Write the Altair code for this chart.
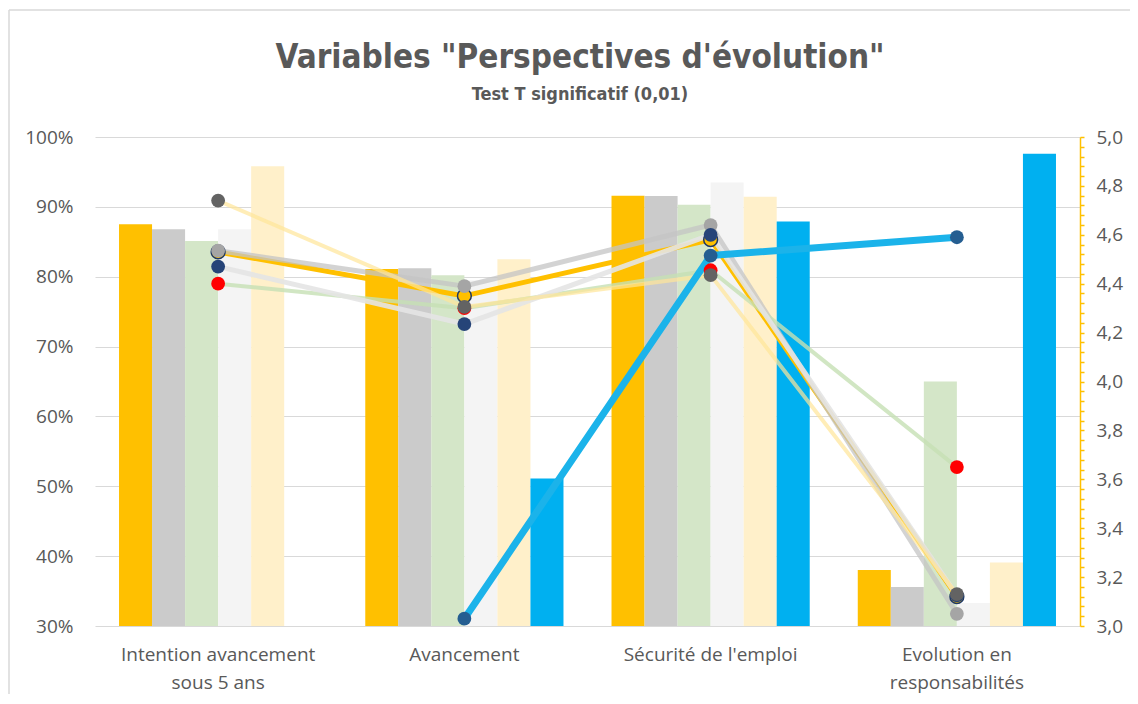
import altair as alt
import pandas as pd

categories = ["Intention avancement sous 5 ans", "Avancement", "Sécurité de l'emploi", "Evolution en responsabilités"]
series = ["S1", "S2", "S3", "S4", "S5", "S6"]

title_text = 'Variables "Perspectives d\'évolution"'
subtitle_text = "Test T significatif (0,01)"

# Bar values (left axis, share)
bar_s1 = [0.875, 0.811, 0.916, 0.380]
bar_s2 = [0.868, 0.812, 0.9155, 0.356]
bar_s3 = [0.851, 0.802, 0.903, 0.650]
bar_s4 = [0.868, 0.795, 0.935, 0.333]
bar_s5 = [0.958, 0.825, 0.9145, 0.391]
bar_s6 = [None, 0.511, 0.879, 0.976]

# Line values (right axis, mean score)
line_s1 = [4.53, 4.35, 4.58, 3.12]
line_s2 = [4.535, 4.39, 4.64, 3.05]
line_s3 = [4.40, 4.30, 4.455, 3.65]
line_s4 = [4.47, 4.235, 4.60, 3.125]
line_s5 = [4.74, 4.305, 4.435, 3.13]
line_s6 = [None, 3.03, 4.515, 4.59]

left_ticks = [0.3, 0.4, 0.5, 0.6, 0.7, 0.8, 0.9, 1.0]
right_ticks = [round(3.0 + 0.04 * i, 2) for i in range(51)]

bar_colors = ["#FFC000", "#CBCBCB", "#D4E6C8", "#F4F4F4", "#FFF0CA", "#00B0F0"]
line_colors = ["#FFC000", "#C4C4C4", "#C5E0B4", "#E4E4E4", "#FFE699", "#1BB3EA"]
line_opac = [1.0, 0.75, 0.8, 0.9, 0.7, 1.0]
line_widths = [5, 5, 4, 5, 4, 7]
marker_colors = ["#FFC000", "#A5A5A5", "#FF0000", "#264478", "#636363", "#255E91"]
marker_strokes = ["#1F3864", "#A5A5A5", "#FF0000", "#264478", "#636363", "#255E91"]
marker_stroke_w = [1.5, 0, 0, 0, 0, 0]

bars_all = [bar_s1, bar_s2, bar_s3, bar_s4, bar_s5, bar_s6]
lines_all = [line_s1, line_s2, line_s3, line_s4, line_s5, line_s6]

bar_rows = []
for s, vals in zip(series, bars_all):
    for c, v in zip(categories, vals):
        bar_rows.append({"cat": c, "serie": s, "pct": v})
bar_df = pd.DataFrame(bar_rows)

font = "Open Sans"
title_font = "'Liberation Sans Narrow', 'DejaVu Sans Condensed', 'Open Sans'"
gray_txt = "#595959"

label_expr = ("datum.label == 'Intention avancement sous 5 ans' ? ['Intention avancement', 'sous 5 ans'] : "
              "datum.label == 'Evolution en responsabilités' ? ['Evolution en', 'responsabilités'] : datum.label")

x_enc = alt.X("cat:N", sort=categories,
              scale=alt.Scale(paddingInner=0, paddingOuter=0),
              axis=alt.Axis(title=None, labelAngle=0, labelExpr=label_expr, labelFont=font,
                            labelFontSize=19, labelColor=gray_txt, labelLineHeight=28,
                            labelPadding=19, domain=False, ticks=False, labelLimit=400))

bars = alt.Chart(bar_df).mark_bar().encode(
    x=x_enc,
    xOffset=alt.XOffset("serie:N", sort=series,
                        scale=alt.Scale(domain=series, paddingInner=0, paddingOuter=0.727)),
    y=alt.Y("pct:Q", scale=alt.Scale(domain=[0.3, 1.0], zero=False, nice=False),
            axis=alt.Axis(title=None, orient="left", values=left_ticks, format=".0%",
                          grid=True, gridColor="#D9D9D9", gridWidth=1.2, domain=False, ticks=False,
                          labelFont=font, labelFontSize=19, labelColor=gray_txt, labelPadding=22)),
    y2=alt.datum(0.3),
    color=alt.Color("serie:N", scale=alt.Scale(domain=series, range=bar_colors), legend=None),
)

right_label_expr = ("abs(datum.value*5 - round(datum.value*5)) < 0.001 ? "
                    "replace(format(datum.value, '.1f'), '.', ',') : ''")

right_axis = alt.Axis(title=None, orient="right", values=right_ticks, labelExpr=right_label_expr,
                      labelOverlap=False, grid=False, domainColor="#FFC000", domainWidth=1.5,
                      tickColor="#FFC000", tickSize=4, tickWidth=1.5,
                      labelFont=font, labelFontSize=19, labelColor=gray_txt, labelPadding=12)

line_layers = []
point_layers = []
for i, (s, vals) in enumerate(zip(series, lines_all)):
    df = pd.DataFrame({"cat": categories, "score": vals}).dropna()
    base = alt.Chart(df).encode(
        x=alt.X("cat:N", sort=categories),
        y=alt.Y("score:Q", scale=alt.Scale(domain=[3.0, 5.0], zero=False, nice=False), axis=right_axis),
    )
    line_layers.append(base.mark_line(color=line_colors[i], strokeWidth=line_widths[i],
                                      opacity=line_opac[i], strokeCap="round", strokeJoin="round"))
    point_layers.append(base.mark_point(filled=True, size=190, color=marker_colors[i], opacity=1,
                                        stroke=marker_strokes[i], strokeWidth=marker_stroke_w[i]))

lines = alt.layer(*line_layers, *point_layers)

one = pd.DataFrame({"k": [0]})
# chart border (decorative)
border_top = alt.Chart(one).mark_rule(color="#D9D9D9", strokeWidth=1.5).encode(
    x=alt.value(-86), x2=alt.value(1040), y=alt.value(-127))
border_left = alt.Chart(one).mark_rule(color="#D9D9D9", strokeWidth=1.5).encode(
    x=alt.value(-86), y=alt.value(-127), y2=alt.value(560))

title_mark = alt.Chart(pd.DataFrame({"t": [title_text]})).mark_text(
    font=title_font, fontSize=33, fontWeight="bold", color=gray_txt, align="center", baseline="alphabetic"
).encode(text="t:N", x=alt.value(485), y=alt.value(-69))
subtitle_mark = alt.Chart(pd.DataFrame({"t": [subtitle_text]})).mark_text(
    font=title_font, fontSize=18, fontWeight="bold", color=gray_txt, align="center", baseline="alphabetic"
).encode(text="t:N", x=alt.value(485), y=alt.value(-37))

chart = alt.layer(border_top, border_left, title_mark, subtitle_mark, bars, lines).resolve_scale(
    y="independent"
).properties(
    width=985, height=489,
    padding={"left": 87, "top": 129, "right": 50, "bottom": 68},
    autosize=alt.AutoSizeParams(type="none"),
).configure_view(stroke=None)

chart.save("out.html", embed_options={"renderer": "svg", "actions": False})
